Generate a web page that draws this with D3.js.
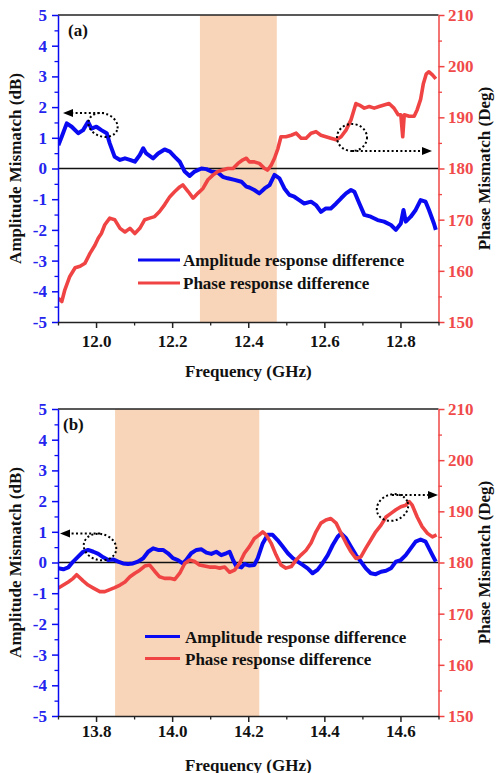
<!DOCTYPE html>
<html>
<head>
<meta charset="utf-8">
<script src="https://cdn.jsdelivr.net/npm/d3@7"></script>
<style>
  body { margin: 0; background: #ffffff; }
  svg { display: block; }
</style>
</head>
<body>
<svg id="chart" width="497" height="773"></svg>
<script>
// ---- axis ticks and labels ----
const ampTicks = [-5, -4, -3, -2, -1, 0, 1, 2, 3, 4, 5];
const ampMinorTicks = [-4.5, -3.5, -2.5, -1.5, -0.5, 0.5, 1.5, 2.5, 3.5, 4.5];
const phaseTicks = [150, 160, 170, 180, 190, 200, 210];
const phaseMinorTicks = [155, 165, 175, 185, 195, 205];
const freqTicksA = [12.0, 12.2, 12.4, 12.6, 12.8];
const freqMinorA = [11.9, 12.1, 12.3, 12.5, 12.7, 12.9];
const freqTicksB = [13.8, 14.0, 14.2, 14.4, 14.6];
const freqMinorB = [13.7, 13.9, 14.1, 14.3, 14.5, 14.7];
const legendLabels = ["Amplitude response difference", "Phase response difference"];
const panelLabels = ["(a)", "(b)"];

// ---- panel (a): 11.9 - 12.9 GHz ----
const bandA = [12.273, 12.475];
const ampFreqA = [11.901, 11.910, 11.923, 11.936, 11.953, 11.966, 11.979, 11.988, 12.001, 12.014,
  12.028, 12.036, 12.049, 12.063, 12.076, 12.089, 12.102, 12.115, 12.124, 12.132,
  12.150, 12.163, 12.180, 12.194, 12.207, 12.220, 12.233, 12.246, 12.259, 12.277,
  12.290, 12.303, 12.320, 12.333, 12.346, 12.364, 12.382, 12.395, 12.403, 12.416,
  12.429, 12.443, 12.456, 12.469, 12.482, 12.495, 12.508, 12.521, 12.534, 12.547,
  12.565, 12.578, 12.591, 12.604, 12.617, 12.631, 12.644, 12.657, 12.670, 12.679,
  12.692, 12.705, 12.722, 12.740, 12.757, 12.775, 12.788, 12.801, 12.808, 12.814,
  12.827, 12.840, 12.853, 12.866, 12.875, 12.888, 12.893];
const ampA = [0.76, 1.04, 1.47, 1.36, 1.15, 1.25, 1.52, 1.30, 1.36, 1.25,
  1.15, 0.82, 0.38, 0.28, 0.33, 0.28, 0.22, 0.44, 0.66, 0.49,
  0.33, 0.49, 0.62, 0.55, 0.38, 0.22, -0.10, -0.24, -0.10, 0.00,
  -0.02, -0.10, -0.13, -0.27, -0.32, -0.37, -0.43, -0.59, -0.62, -0.70,
  -0.81, -0.65, -0.54, -0.21, -0.32, -0.65, -0.86, -0.92, -1.03, -1.14,
  -1.08, -1.19, -1.41, -1.30, -1.30, -1.14, -0.97, -0.81, -0.70, -0.76,
  -1.14, -1.51, -1.57, -1.68, -1.73, -1.84, -2.00, -1.79, -1.35, -1.73,
  -1.57, -1.35, -1.03, -1.08, -1.35, -1.79, -2.00];
const phaseFreqA = [11.901, 11.910, 11.918, 11.931, 11.945, 11.958, 11.971, 11.984, 11.997, 12.006,
  12.014, 12.023, 12.036, 12.049, 12.063, 12.076, 12.089, 12.102, 12.115, 12.128,
  12.141, 12.154, 12.167, 12.180, 12.194, 12.207, 12.220, 12.228, 12.242, 12.255,
  12.268, 12.281, 12.294, 12.307, 12.320, 12.333, 12.346, 12.360, 12.373, 12.386,
  12.395, 12.403, 12.416, 12.429, 12.443, 12.451, 12.460, 12.469, 12.478, 12.486,
  12.499, 12.513, 12.526, 12.539, 12.552, 12.565, 12.578, 12.591, 12.604, 12.617,
  12.631, 12.644, 12.657, 12.670, 12.683, 12.692, 12.705, 12.718, 12.731, 12.744,
  12.757, 12.770, 12.783, 12.794, 12.801, 12.806, 12.810, 12.823, 12.836, 12.844,
  12.853, 12.860, 12.868, 12.875, 12.884, 12.893];
const phaseA = [154.6, 154.0, 156.3, 158.9, 160.6, 160.9, 161.5, 163.4, 165.0, 166.4,
  167.3, 169.0, 170.3, 170.0, 168.3, 167.6, 168.3, 167.3, 168.3, 170.0,
  170.3, 170.6, 171.6, 172.9, 174.5, 175.5, 176.4, 176.8, 175.5, 174.2,
  175.2, 176.1, 177.8, 178.7, 179.4, 179.7, 180.0, 180.0, 181.0, 181.7,
  182.0, 181.3, 181.3, 181.0, 180.0, 179.7, 180.6, 182.0, 183.9, 186.2,
  186.2, 186.5, 186.9, 185.9, 185.9, 186.9, 187.2, 186.5, 186.2, 185.9,
  185.6, 186.2, 187.5, 189.5, 192.7, 192.4, 191.8, 192.1, 191.8, 192.1,
  192.4, 192.7, 191.8, 190.5, 190.5, 186.2, 190.5, 190.2, 190.2, 191.5,
  193.5, 196.5, 198.5, 198.9, 198.3, 197.5];

// ---- panel (b): 13.7 - 14.7 GHz ----
const bandB = [13.85, 14.229];
const ampFreqB = [13.701, 13.714, 13.727, 13.740, 13.753, 13.766, 13.779, 13.793, 13.806, 13.819,
  13.832, 13.845, 13.858, 13.871, 13.884, 13.897, 13.910, 13.924, 13.937, 13.950,
  13.963, 13.976, 13.989, 14.002, 14.015, 14.028, 14.037, 14.050, 14.064, 14.077,
  14.090, 14.103, 14.116, 14.129, 14.142, 14.151, 14.160, 14.168, 14.182, 14.190,
  14.203, 14.216, 14.225, 14.238, 14.251, 14.264, 14.277, 14.291, 14.304, 14.317,
  14.330, 14.343, 14.356, 14.369, 14.382, 14.395, 14.409, 14.422, 14.435, 14.444,
  14.457, 14.470, 14.483, 14.496, 14.509, 14.522, 14.535, 14.549, 14.562, 14.575,
  14.588, 14.601, 14.614, 14.627, 14.640, 14.653, 14.666, 14.675, 14.684, 14.693];
const ampB = [-0.19, -0.22, -0.16, 0.03, 0.19, 0.35, 0.41, 0.35, 0.28, 0.17,
  0.08, 0.10, 0.03, -0.03, -0.05, -0.03, 0.03, 0.14, 0.35, 0.46,
  0.41, 0.41, 0.30, 0.14, 0.08, -0.03, 0.08, 0.30, 0.41, 0.43,
  0.32, 0.28, 0.35, 0.24, 0.30, 0.35, 0.08, -0.11, -0.16, -0.05,
  -0.10, -0.08, 0.14, 0.62, 0.90, 0.90, 0.73, 0.51, 0.30, 0.14,
  0.03, -0.08, -0.19, -0.35, -0.24, -0.03, 0.24, 0.57, 0.84, 0.95,
  0.79, 0.51, 0.24, 0.03, -0.19, -0.35, -0.38, -0.30, -0.27, -0.19,
  0.03, 0.08, 0.24, 0.46, 0.68, 0.75, 0.68, 0.46, 0.24, 0.03];
const phaseFreqB = [13.701, 13.714, 13.727, 13.740, 13.749, 13.766, 13.779, 13.793, 13.810, 13.823,
  13.836, 13.849, 13.863, 13.876, 13.889, 13.902, 13.915, 13.928, 13.941, 13.954,
  13.967, 13.980, 13.994, 14.007, 14.020, 14.033, 14.046, 14.059, 14.072, 14.085,
  14.098, 14.112, 14.125, 14.138, 14.151, 14.164, 14.177, 14.190, 14.203, 14.216,
  14.229, 14.238, 14.247, 14.260, 14.273, 14.286, 14.299, 14.313, 14.326, 14.339,
  14.352, 14.365, 14.378, 14.391, 14.404, 14.417, 14.431, 14.444, 14.457, 14.470,
  14.483, 14.496, 14.509, 14.522, 14.535, 14.549, 14.562, 14.575, 14.588, 14.601,
  14.614, 14.623, 14.631, 14.644, 14.657, 14.671, 14.684, 14.695];
const phaseB = [175.0, 175.6, 176.2, 176.9, 177.6, 176.4, 175.6, 175.0, 174.3, 174.3,
  174.7, 175.1, 175.6, 176.2, 177.2, 177.9, 178.5, 179.3, 179.5, 178.3,
  177.2, 176.9, 176.9, 176.7, 177.9, 179.8, 180.5, 180.2, 179.5, 179.3,
  179.1, 179.1, 178.9, 179.1, 178.1, 178.5, 179.8, 181.8, 183.1, 184.7,
  185.4, 186.0, 185.4, 183.8, 181.5, 179.5, 178.9, 179.2, 180.5, 181.5,
  182.4, 183.8, 186.0, 187.7, 188.3, 188.6, 187.7, 185.7, 183.8, 182.1,
  180.8, 181.1, 182.8, 184.4, 186.0, 187.3, 188.9, 189.6, 190.3, 190.9,
  191.2, 191.9, 191.2, 188.9, 187.0, 185.7, 185.0, 185.4];

// ---- styling ----
const FONT = "'Liberation Serif', 'Times New Roman', serif";
const BLUE = "#0a0af2";
const BLUE_TEXT = "#2424ee";
const RED = "#f04444";
const RED_TEXT = "#f04a4a";
const SHADE = "#f8d5b8";
const PLOT_L = 58, PLOT_R = 438.5, PLOT_H = 307;

const svg = d3.select("#chart");

function styleAxis(sel, color, width) {
  sel.attr("font-family", FONT).attr("font-size", 17).attr("font-weight", "bold");
  sel.selectAll("path, line").attr("stroke", color).attr("stroke-width", width);
  sel.selectAll("text").attr("fill", color === "#222" ? "#111" : (color === BLUE ? BLUE_TEXT : RED_TEXT));
}

// Dotted loop around a curve with a dotted arrow pointing to its axis.
function loopArrow(g, e, arrowY, fromX, tipX) {
  g.append("ellipse")
    .attr("cx", 0).attr("cy", 0).attr("rx", e.rx).attr("ry", e.ry)
    .attr("transform", `translate(${e.cx},${e.cy}) rotate(${e.rot})`)
    .attr("fill", "none").attr("stroke", "#000").attr("stroke-width", 2)
    .attr("stroke-dasharray", "2,2.4");
  const dir = tipX > fromX ? 1 : -1;
  const headLen = 10, headHalf = 4;
  g.append("line")
    .attr("x1", fromX).attr("x2", tipX - dir * headLen)
    .attr("y1", arrowY).attr("y2", arrowY)
    .attr("stroke", "#000").attr("stroke-width", 2)
    .attr("stroke-dasharray", "2,2.4");
  g.append("path")
    .attr("d", d3.line()([[tipX, arrowY], [tipX - dir * headLen, arrowY - headHalf], [tipX - dir * headLen, arrowY + headHalf]]) + "Z")
    .attr("fill", "#000");
}

function drawPanel(cfg) {
  const top = cfg.top, bottom = top + PLOT_H;
  const x = d3.scaleLinear().domain(cfg.domain).range([PLOT_L, PLOT_R]);
  const yAmp = d3.scaleLinear().domain([-5, 5]).range([bottom, top]);
  const yPh = d3.scaleLinear().domain([150, 210]).range([bottom, top]);
  const g = svg.append("g");

  // highlighted band
  g.append("rect")
    .attr("x", x(cfg.band[0])).attr("y", top)
    .attr("width", x(cfg.band[1]) - x(cfg.band[0])).attr("height", PLOT_H)
    .attr("fill", SHADE);

  // top frame and zero reference line
  g.append("line").attr("x1", PLOT_L).attr("x2", PLOT_R).attr("y1", top).attr("y2", top)
    .attr("stroke", "#222").attr("stroke-width", 1.3);
  g.append("line").attr("x1", PLOT_L).attr("x2", PLOT_R).attr("y1", yAmp(0)).attr("y2", yAmp(0))
    .attr("stroke", "#111").attr("stroke-width", 1.6);

  // curves, clipped to the plot area
  const clipId = "clip-" + cfg.tag;
  svg.append("clipPath").attr("id", clipId).append("rect")
    .attr("x", PLOT_L).attr("y", top).attr("width", PLOT_R - PLOT_L).attr("height", PLOT_H);
  const curves = g.append("g").attr("clip-path", `url(#${clipId})`);
  curves.append("path")
    .datum(d3.zip(cfg.ampFreq, cfg.amp))
    .attr("d", d3.line().x(d => x(d[0])).y(d => yAmp(d[1])))
    .attr("fill", "none").attr("stroke", BLUE).attr("stroke-width", 4)
    .attr("stroke-linejoin", "round");
  curves.append("path")
    .datum(d3.zip(cfg.phaseFreq, cfg.phase))
    .attr("d", d3.line().x(d => x(d[0])).y(d => yPh(d[1])))
    .attr("fill", "none").attr("stroke", RED).attr("stroke-width", 3.6)
    .attr("stroke-linejoin", "round");

  // left axis (amplitude)
  const axL = g.append("g").attr("transform", `translate(${PLOT_L},0)`)
    .call(d3.axisLeft(yAmp).tickValues(ampTicks).tickFormat(d => String(d))
      .tickSize(6).tickSizeOuter(0).tickPadding(5));
  styleAxis(axL, BLUE, 1.5);
  const axLm = g.append("g").attr("transform", `translate(${PLOT_L},0)`)
    .call(d3.axisLeft(yAmp).tickValues(ampMinorTicks).tickFormat("").tickSize(3.5).tickSizeOuter(0));
  axLm.select(".domain").remove();
  styleAxis(axLm, BLUE, 1.3);

  // right axis (phase)
  const axR = g.append("g").attr("transform", `translate(${PLOT_R},0)`)
    .call(d3.axisRight(yPh).tickValues(phaseTicks).tickFormat(d => String(d))
      .tickSize(6).tickSizeOuter(0).tickPadding(3.5));
  styleAxis(axR, RED, 1.5);
  const axRm = g.append("g").attr("transform", `translate(${PLOT_R},0)`)
    .call(d3.axisRight(yPh).tickValues(phaseMinorTicks).tickFormat("").tickSize(3.5).tickSizeOuter(0));
  axRm.select(".domain").remove();
  styleAxis(axRm, RED, 1.3);

  // bottom axis (frequency)
  const axB = g.append("g").attr("transform", `translate(0,${bottom})`)
    .call(d3.axisBottom(x).tickValues(cfg.freqTicks).tickFormat(d3.format(".1f"))
      .tickSize(6).tickSizeOuter(0).tickPadding(cfg.xPad));
  styleAxis(axB, "#222", 1.5);
  const axBm = g.append("g").attr("transform", `translate(0,${bottom})`)
    .call(d3.axisBottom(x).tickValues(cfg.freqMinor).tickFormat("").tickSize(3.5).tickSizeOuter(0));
  axBm.select(".domain").remove();
  styleAxis(axBm, "#222", 1.3);

  // axis titles
  const midY = (top + bottom) / 2;
  const title = (sel) => sel.attr("font-family", FONT).attr("font-size", 17)
    .attr("font-weight", "bold").attr("fill", "#111");
  g.append("text").call(title).attr("text-anchor", "middle")
    .attr("transform", `translate(21,${midY}) rotate(-90)`)
    .text("Amplitude Mismatch (dB)");
  g.append("text").call(title).attr("text-anchor", "middle")
    .attr("transform", `translate(490,${midY}) rotate(-90)`)
    .text("Phase Mismatch (Deg)");
  g.append("text").call(title).attr("text-anchor", "middle")
    .attr("x", (PLOT_L + PLOT_R) / 2).attr("y", bottom + 54.5)
    .text("Frequency (GHz)");

  // panel tag
  g.append("text").call(title).attr("x", cfg.tagX).attr("y", top + 21).text(cfg.label);

  // legend
  const colors = [BLUE, RED];
  legendLabels.forEach((lab, i) => {
    const ly = cfg.legend.y + i * cfg.legend.dy;
    g.append("line").attr("x1", cfg.legend.x0).attr("x2", cfg.legend.x1)
      .attr("y1", ly).attr("y2", ly)
      .attr("stroke", colors[i]).attr("stroke-width", 3);
    g.append("text").call(title).attr("x", cfg.legend.tx).attr("y", ly + 6).text(lab);
  });

  // annotations
  cfg.loops.forEach(l => loopArrow(g, l.e, l.ay, l.from, l.tip));
}

drawPanel({
  tag: "a", label: panelLabels[0], tagX: 68, top: 15, domain: [11.9, 12.9], band: bandA,
  ampFreq: ampFreqA, amp: ampA, phaseFreq: phaseFreqA, phase: phaseA,
  freqTicks: freqTicksA, freqMinor: freqMinorA, xPad: 6.5,
  legend: { x0: 138, x1: 180, tx: 183, y: 260, dy: 23 },
  loops: [
    { e: { cx: 103, cy: 125, rx: 15, ry: 11.5, rot: 20 }, ay: 113, from: 104, tip: 63 },
    { e: { cx: 352, cy: 137.5, rx: 15, ry: 13.5, rot: 0 }, ay: 151, from: 352, tip: 432 }
  ]
});

drawPanel({
  tag: "b", label: panelLabels[1], tagX: 63, top: 409, domain: [13.7, 14.7], band: bandB,
  ampFreq: ampFreqB, amp: ampB, phaseFreq: phaseFreqB, phase: phaseB,
  freqTicks: freqTicksB, freqMinor: freqMinorB, xPad: 3,
  legend: { x0: 145, x1: 180, tx: 185, y: 636.5, dy: 22 },
  loops: [
    { e: { cx: 100, cy: 547, rx: 16.5, ry: 13, rot: 15 }, ay: 533.5, from: 100, tip: 60 },
    { e: { cx: 392.5, cy: 507.5, rx: 16, ry: 13, rot: -20 }, ay: 495, from: 392, tip: 438 }
  ]
});
</script>
</body>
</html>
